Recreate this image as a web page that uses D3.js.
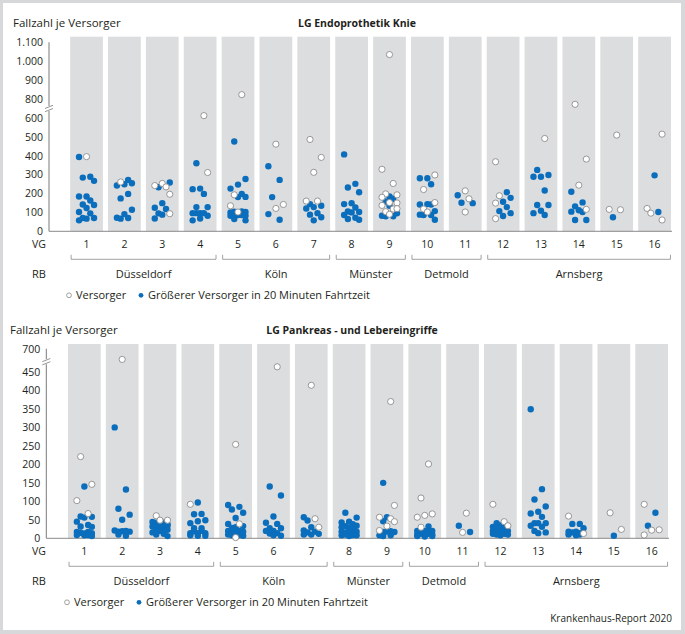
<!DOCTYPE html>
<html>
<head>
<meta charset="utf-8">
<script src="https://cdn.jsdelivr.net/npm/d3@7"></script>
<style>
  body { margin: 0; background: #d7d8d9; }
  text { font-family: 'Open Sans', sans-serif; fill: #231f20; }
</style>
</head>
<body>
<svg id="chart" width="685" height="634"></svg>
<script>
// Versorgungsgebiete und Regierungsbezirke
const vgLabels = ['1','2','3','4','5','6','7','8','9','10','11','12','13','14','15','16'];
const rbNamen = ['Düsseldorf', 'Köln', 'Münster', 'Detmold', 'Arnsberg'];
const rbVon = [1, 5, 8, 10, 12];
const rbBis = [4, 7, 9, 11, 16];

const knieTicks = [0, 100, 200, 300, 400, 500, 600, 800, 900, 1000, 1100];
const pankTicks = [0, 50, 100, 150, 200, 250, 300, 350, 400, 450, 700];

// je VG: [Typ, Spur, Fallzahl]  v = Versorger, g = größerer Versorger in 20 Min.
const kniePunkte = [
  [['g',-2,393],['v',0,395],['g',-1,284],['g',1,289],['g',2,267],['g',-2,184],['g',0,184],['g',1,163],['g',-1,142],['g',2,139],['g',0,123],['g',-2,102],['g',1,95],['g',-1,70],['g',2,70],['g',-2,58],['g',0,67]],
  [['g',-2,242],['v',-1,261],['g',0,249],['g',1,272],['g',2,254],['g',-1,174],['g',1,198],['g',2,114],['g',0,91],['g',-2,72],['g',-1,67],['g',1,70]],
  [['v',-2,242],['g',-1,233],['v',0,253],['v',1,235],['g',2,258],['v',2,196],['g',-2,125],['g',0,149],['g',1,118],['g',-1,95],['g',0,88],['v',2,93],['g',-2,68]],
  [['v',1,612],['g',-1,360],['v',2,311],['g',-2,223],['g',0,226],['g',1,198],['g',-1,128],['g',2,128],['g',-2,96],['g',-1,96],['g',0,96],['g',1,96],['g',2,82],['g',0,68],['g',-2,58]],
  [['v',1,823],['g',-1,475],['g',-2,226],['g',0,247],['g',2,277],['v',-1,193],['g',0,181],['g',1,198],['g',2,182],['v',-2,135],['g',-2,100],['g',-1,104],['v',0,102],['g',1,105],['g',2,102],['g',-2,82],['g',-1,82],['g',0,86],['g',1,86],['g',2,82],['g',-1,65],['g',2,58]],
  [['v',0,461],['g',-2,344],['g',1,272],['g',-1,181],['v',2,142],['v',0,121],['g',-2,91],['g',1,61]],
  [['v',-1,486],['v',2,391],['v',0,312],['v',-2,160],['v',1,160],['g',-1,144],['g',-2,121],['g',0,128],['g',2,135],['g',-1,88],['g',1,96],['g',2,74],['g',0,58]],
  [['g',-2,407],['g',-1,232],['g',1,251],['g',2,207],['g',-2,144],['g',0,149],['g',1,126],['g',-1,105],['g',0,100],['g',2,102],['g',-2,86],['g',1,72],['g',-1,65],['g',2,61]],
  [['v',0,1035],['v',-2,328],['v',1,253],['v',-1,198],['v',2,193],['g',0,184],['g',1,172],['v',-2,180],['v',0,152],['v',2,150],['g',-1,158],['v',-2,137],['g',0,135],['v',1,118],['v',-1,104],['v',2,120],['g',-2,82],['g',-1,79],['v',0,90],['g',1,80],['g',2,95]],
  [['g',-2,281],['g',0,281],['v',2,298],['g',1,249],['v',-1,221],['v',2,152],['g',-2,142],['g',0,144],['g',1,142],['v',-1,118],['v',0,102],['g',2,107],['g',-2,88],['g',-1,86],['g',1,86],['g',2,61]],
  [['g',-2,191],['v',0,214],['v',1,172],['g',-1,151],['g',2,149],['v',0,102]],
  [['v',-2,368],['v',-1,188],['g',1,207],['g',2,177],['v',-2,149],['g',0,156],['g',1,128],['g',-1,107],['g',2,96],['g',0,81],['v',-2,67]],
  [['v',1,491],['g',-1,325],['g',-2,289],['g',0,289],['g',2,298],['g',1,216],['g',-1,139],['g',2,139],['g',-2,96],['g',0,109],['g',1,86]],
  [['v',-1,772],['v',2,382],['v',0,244],['g',-2,209],['g',-1,132],['g',1,153],['g',-2,104],['g',0,111],['g',1,102],['v',2,116],['g',-1,60],['g',2,60]],
  [['v',0,509],['v',-2,116],['v',1,114],['g',-1,74]],
  [['v',2,514],['g',0,296],['v',-2,121],['v',-1,96],['g',1,102],['v',2,60]]
];

const pankPunkte = [
  [['v',-1,221],['v',-2,102],['g',0,140],['v',2,146],['v',1,67],['g',-1,59],['g',0,56],['g',2,58],['g',-2,45],['g',-1,32],['g',1,36],['g',2,31],['g',-2,17],['g',-1,15],['g',0,13],['g',1,17],['g',2,14],['g',-2,9],['g',0,8],['g',1,9],['g',2,6]],
  [['v',0,671],['g',-2,300],['g',1,132],['g',-1,80],['g',2,64],['g',0,50],['g',-2,21],['g',-1,18],['g',0,19],['g',1,20],['g',2,18],['g',-1,10],['g',1,7]],
  [['v',-1,61],['v',0,49],['v',2,49],['g',-2,44],['g',-1,42],['g',0,40],['g',1,42],['g',2,38],['g',-2,32],['g',-1,34],['g',0,30],['g',1,31],['g',2,34],['g',-2,16],['g',-1,22],['g',0,20],['g',1,20],['g',2,23],['g',-1,10],['g',1,12],['g',2,6]],
  [['v',-2,92],['g',0,97],['g',-1,65],['g',1,66],['g',-2,41],['g',0,46],['g',2,49],['g',-1,27],['g',1,27],['g',-2,14],['g',-1,19],['g',0,14],['g',1,20],['g',2,14],['g',-2,8],['g',0,7],['g',2,7]],
  [['v',0,254],['g',-2,90],['g',-1,78],['g',1,85],['g',2,69],['g',0,55],['g',-2,39],['v',1,39],['g',-1,28],['g',0,30],['g',2,33],['g',-2,20],['g',-1,18],['g',0,16],['g',1,20],['g',2,18],['g',-2,10],['g',-1,8],['g',0,5],['v',0,2],['g',1,9],['g',2,7],['g',-1,12],['g',1,14]],
  [['v',1,464],['g',-1,140],['g',2,116],['g',0,59],['g',-2,42],['g',1,39],['g',-1,27],['g',2,27],['g',-2,20],['g',0,20],['g',-1,13],['g',1,14],['g',2,7],['g',0,8]],
  [['v',0,414],['g',-2,57],['v',1,53],['g',-1,48],['v',2,30],['g',0,30],['g',-2,21],['g',-1,16],['g',1,18],['g',-2,10],['g',0,10],['g',2,12]],
  [['g',-1,69],['g',2,56],['g',-2,43],['g',0,45],['g',1,38],['g',-2,30],['g',-1,33],['g',0,28],['g',1,25],['g',2,34],['g',-2,18],['g',-1,16],['g',0,18],['g',1,14],['g',2,18],['g',-2,8],['g',-1,10],['g',0,6],['g',1,9],['g',2,8]],
  [['v',1,370],['g',-1,150],['v',2,89],['v',-2,57],['g',0,57],['v',1,53],['g',-1,46],['v',2,45],['v',0,33],['v',-2,21],['g',-1,17],['g',0,18],['g',1,19],['g',2,17],['g',-2,8],['g',-1,6],['g',1,8]],
  [['v',1,201],['v',-1,109],['v',-2,57],['v',0,62],['v',2,66],['v',-1,30],['g',1,32],['g',-2,20],['g',-1,22],['g',0,20],['g',1,20],['g',2,20],['g',-2,10],['g',-1,12],['g',0,10],['g',1,12],['g',2,10],['g',-2,6],['g',0,5],['g',2,6]],
  [['v',1,68],['g',-1,34],['v',0,16],['g',2,17]],
  [['v',-2,92],['g',-1,41],['v',1,45],['v',2,34],['g',-2,31],['g',0,35],['g',-1,28],['g',0,25],['g',1,30],['g',-2,20],['g',-1,18],['g',0,17],['g',1,19],['g',2,20],['g',-2,12],['g',-1,10],['g',0,8],['g',1,12],['g',2,10]],
  [['g',-2,349],['g',1,133],['g',-1,105],['g',2,86],['g',-2,67],['g',0,72],['g',1,58],['g',-1,41],['g',0,41],['g',2,41],['g',-2,34],['g',1,31],['g',-1,20],['g',0,14],['g',2,16]],
  [['v',-2,60],['g',-1,39],['g',1,39],['g',2,27],['g',-2,18],['g',-1,16],['g',0,18],['g',1,14],['g',-2,10],['g',0,8],['g',1,10],['v',2,13]],
  [['v',-1,69],['v',2,24],['g',0,7]],
  [['v',-2,92],['g',1,69],['g',-1,34],['v',0,22],['v',2,23],['v',-2,9]]
];

const BLAU = '#0a6ebd';
const deLocale = d3.formatLocale({ decimal: ',', thousands: '.', grouping: [3], currency: ['', ' €'] });
const fmt = deLocale.format(',d');

const svg = d3.select('#chart');
svg.append('rect').attr('x', 3).attr('y', 3).attr('width', 678).attr('height', 627).attr('fill', '#fff');

function drawPanel(p) {
  const g = svg.append('g');
  const x = d3.scaleBand().domain(vgLabels).range([p.x0, p.x1])
    .paddingInner(0.135).paddingOuter(0.0675);
  const bw = x.bandwidth();
  // gebrochene Achse: oberes Stück schliesst mit gleicher Steigung an
  const y = d3.scaleLinear().domain(p.domain).range(p.equiv.map(e => p.y0 - e * p.k));
  const spur = d3.scaleLinear().domain([-2, 2]).range([-7.5, 7.5]);

  g.append('text').attr('x', p.labelX).attr('y', p.titleY)
    .style('font-size', '11.5px').text('Fallzahl je Versorger');
  g.append('text').attr('x', p.titleX).attr('y', p.titleY).attr('text-anchor', 'middle')
    .style('font-size', '10.5px').style('font-weight', 'bold').text(p.title);

  g.selectAll('rect.col').data(vgLabels).join('rect').attr('class', 'col')
    .attr('x', d => x(d)).attr('y', p.colTop)
    .attr('width', bw).attr('height', p.y0 - p.colTop)
    .attr('fill', '#dcddde');

  // y-Achse
  const yAxis = g.append('g').attr('transform', `translate(${p.axisX},0)`)
    .call(d3.axisLeft(y).tickValues(p.ticks).tickSize(0).tickPadding(6).tickFormat(fmt));
  yAxis.select('.domain').remove();
  yAxis.selectAll('text').style('font-size', '10.5px').style('font-family', 'Open Sans').attr('fill', '#231f20');

  const yTop = y(p.ticks[p.ticks.length - 1]);
  g.append('line').attr('x1', p.axisX).attr('x2', p.axisX).attr('y1', yTop).attr('y2', p.breakY - 2.5)
    .attr('stroke', '#7a7a7a');
  g.append('line').attr('x1', p.axisX).attr('x2', p.axisX).attr('y1', p.breakY + 2.5).attr('y2', p.y0)
    .attr('stroke', '#7a7a7a');
  [-1.6, 1.6].forEach(o => {
    g.append('line')
      .attr('x1', p.axisX - 4).attr('y1', p.breakY + o + 1.6)
      .attr('x2', p.axisX + 4).attr('y2', p.breakY + o - 1.6)
      .attr('stroke', '#7a7a7a').attr('stroke-width', 0.8);
  });

  // x-Achse
  g.append('line').attr('x1', p.axisX).attr('x2', p.xEnd).attr('y1', p.y0).attr('y2', p.y0)
    .attr('stroke', '#8a8a8a');

  // Punkte
  p.punkte.forEach((col, i) => {
    const cx = x(vgLabels[i]) + bw / 2;
    const sorted = col.filter(d => d[0] === 'g').concat(col.filter(d => d[0] === 'v'));
    g.selectAll(null).data(sorted).join('circle')
      .attr('cx', d => cx + spur(d[1]))
      .attr('cy', d => y(d[2]))
      .attr('r', d => d[0] === 'g' ? 3.2 : 3.1)
      .attr('fill', d => d[0] === 'g' ? BLAU : '#fff')
      .attr('stroke', d => d[0] === 'g' ? 'none' : '#8c8c8c')
      .attr('stroke-width', 0.9);
  });

  // VG-Zeile
  const vgY = p.y0 + 17;
  g.append('text').attr('x', 39).attr('y', vgY).attr('text-anchor', 'middle')
    .style('font-size', '10.5px').text('VG');
  g.selectAll('text.vg').data(vgLabels).join('text').attr('class', 'vg')
    .attr('x', d => x(d) + bw / 2).attr('y', vgY).attr('text-anchor', 'middle')
    .style('font-size', '10.5px').text(d => d);

  // Regierungsbezirke
  const yb = p.y0 + 28;
  rbNamen.forEach((name, i) => {
    const xa = x(vgLabels[rbVon[i] - 1]) + 1;
    const xe = x(vgLabels[rbBis[i] - 1]) + bw - 0.5;
    g.append('path').attr('d', `M${xa},${yb - 4.5}V${yb}H${xe}V${yb - 4.5}`)
      .attr('fill', 'none').attr('stroke', '#8a8a8a').attr('stroke-width', 0.8);
    g.append('text').attr('x', (xa + xe) / 2).attr('y', p.y0 + 47).attr('text-anchor', 'middle')
      .style('font-size', '11px').text(name);
  });
  g.append('text').attr('x', 39).attr('y', p.y0 + 47).attr('text-anchor', 'middle')
    .style('font-size', '11px').text('RB');

  // Legende
  const ly = p.y0 + 64;
  g.append('circle').attr('cx', p.legX).attr('cy', ly).attr('r', 2.4)
    .attr('fill', '#fff').attr('stroke', '#8c8c8c').attr('stroke-width', 0.8);
  g.append('text').attr('x', p.legX + 7).attr('y', ly + 4).style('font-size', '11px').text('Versorger');
  g.append('circle').attr('cx', p.legX + 72).attr('cy', ly).attr('r', 2.4).attr('fill', BLAU);
  g.append('text').attr('x', p.legX + 79).attr('y', ly + 4).style('font-size', '11px')
    .text('Größerer Versorger in 20 Minuten Fahrtzeit');
}

drawPanel({
  title: 'LG Endoprothetik Knie', punkte: kniePunkte, ticks: knieTicks,
  domain: [0, 640, 760, 1100], equiv: [0, 640, 660, 1000], k: 0.189, y0: 231.3,
  x0: 67.6, x1: 673.5, axisX: 49, xEnd: 672, colTop: 36.7, breakY: 108.5,
  labelX: 13, titleX: 357, titleY: 27, legX: 69
});

drawPanel({
  title: 'LG Pankreas - und Lebereingriffe', punkte: pankPunkte, ticks: pankTicks,
  domain: [0, 475, 665, 700], equiv: [0, 475, 478, 513], k: 0.3696, y0: 538.3,
  x0: 65.45, x1: 670.6, axisX: 46.3, xEnd: 669, colTop: 344, breakY: 361.7,
  labelX: 10, titleX: 352, titleY: 334, legX: 67
});

svg.append('text').attr('x', 672).attr('y', 622).attr('text-anchor', 'end')
  .style('font-size', '10px').text('Krankenhaus-Report 2020');
</script>
</body>
</html>
